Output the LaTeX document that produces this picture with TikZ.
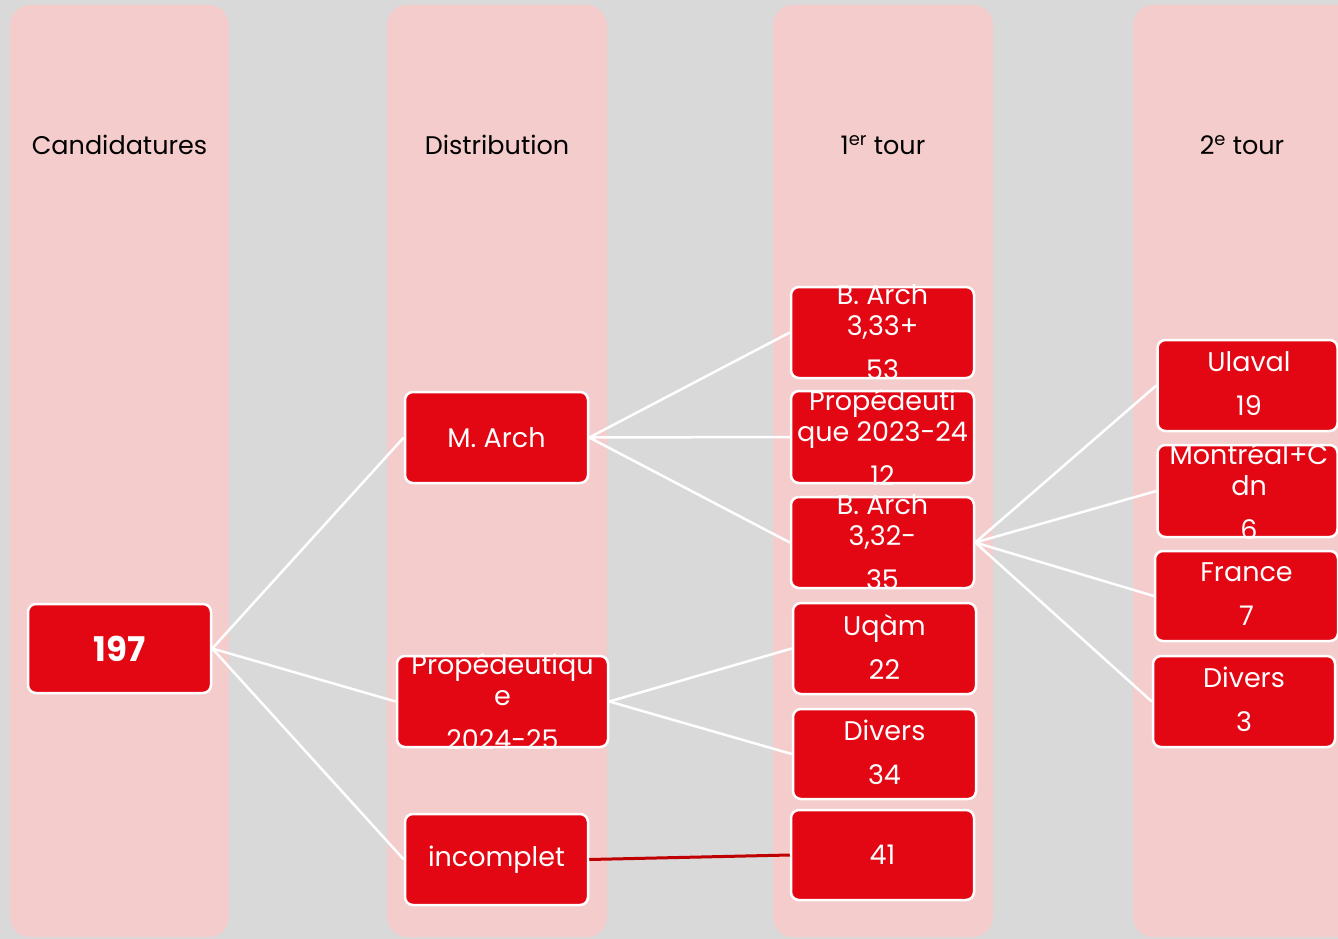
\documentclass[tikz,border=0pt]{standalone}
\usepackage{fontspec}
\setmainfont{Poppins}
\definecolor{bggray}{HTML}{D9D9D9}
\definecolor{colpink}{HTML}{F4CCCC}
\definecolor{boxred}{HTML}{E30613}
\definecolor{linkred}{HTML}{C00000}
\tikzset{
  column/.style={fill=colpink, draw=none, rounded corners=20pt},
  boxnode/.style={rectangle, rounded corners=8pt, fill=boxred, draw=white, line width=2.5pt, inner sep=0pt},
  boxtext/.style={text=white, align=center, inner sep=0pt, font=\fontsize{27}{31}\selectfont},
  header/.style={text=black, inner sep=0pt, font=\fontsize{25.5}{31}\selectfont},
  link/.style={draw=white, line width=2.5pt},
  redlink/.style={draw=linkred, line width=3pt}
}
\newcommand{\pgap}{\\[13pt]}
\begin{document}
\begin{tikzpicture}[x=1pt,y=-1pt]
\useasboundingbox (0,0) rectangle (1338,939);
\clip (0,0) rectangle (1338,939);
\fill[bggray] (0,0) rectangle (1338,939);
% columns
\fill[column] (10,5) rectangle (229,937);
\fill[column] (387,5) rectangle (607,937);
\fill[column] (773,5) rectangle (993,937);
\fill[column] (1133,5) rectangle (1380,937);
% headers
\node[header] (h1) at (119.5,145) {Candidatures};
\node[header] (h2) at (497,145) {Distribution};
\node[header] (h3) at (883,145) {1\textsuperscript{er} tour};
\node[header] (h4) at (1242,145) {2\textsuperscript{e} tour};
% boxes
\node[boxnode, minimum width=183pt, minimum height=89pt] (n197) at (119.5,648.5) {};
\node[boxnode, minimum width=183pt, minimum height=91pt] (march) at (496.5,437.5) {};
\node[boxnode, minimum width=211pt, minimum height=91pt] (prop24) at (502.5,701.5) {};
\node[boxnode, minimum width=183pt, minimum height=91pt] (incomplet) at (496.5,859.5) {};
\node[boxnode, minimum width=183pt, minimum height=91pt] (barch1) at (882.5,332.5) {};
\node[boxnode, minimum width=183pt, minimum height=92pt] (prop23) at (882.5,437) {};
\node[boxnode, minimum width=183pt, minimum height=91pt] (barch2) at (882.5,542.5) {};
\node[boxnode, minimum width=183pt, minimum height=91pt] (uqam) at (884.5,648.5) {};
\node[boxnode, minimum width=183pt, minimum height=90pt] (divers1) at (884.5,754) {};
\node[boxnode, minimum width=183pt, minimum height=90pt] (n41) at (882.5,855) {};
\node[boxnode, minimum width=180pt, minimum height=91pt] (ulaval) at (1247.5,385.5) {};
\node[boxnode, minimum width=180pt, minimum height=92pt] (montreal) at (1247.5,491) {};
\node[boxnode, minimum width=183pt, minimum height=90pt] (france) at (1246.5,596) {};
\node[boxnode, minimum width=182pt, minimum height=91pt] (divers2) at (1244,701.5) {};
% connectors
\draw[link] (n197.east) -- (march.west);
\draw[link] (n197.east) -- (prop24.west);
\draw[link] (n197.east) -- (incomplet.west);
\draw[link] (march.east) -- (barch1.west);
\draw[link] (march.east) -- (prop23.west);
\draw[link] (march.east) -- (barch2.west);
\draw[link] (prop24.east) -- (uqam.west);
\draw[link] (prop24.east) -- (divers1.west);
\draw[redlink] (incomplet.east) -- (n41.west);
\draw[link] (barch2.east) -- (ulaval.west);
\draw[link] (barch2.east) -- (montreal.west);
\draw[link] (barch2.east) -- (france.west);
\draw[link] (barch2.east) -- (divers2.west);
% texts
\node[boxtext, font=\fontsize{34}{38}\bfseries] (t197) at (n197) {197};
\node[boxtext] (tmarch) at (march) {M. Arch};
\node[boxtext] (tprop24) at (prop24) {Propédeutiqu\\e\pgap 2024-25};
\node[boxtext] (tincomplet) at (incomplet) {incomplet};
\node[boxtext] (tbarch1) at (barch1) {B. Arch\\3,33+\pgap 53};
\node[boxtext] (tprop23) at (prop23) {Propédeuti\\que 2023-24\pgap 12};
\node[boxtext] (tbarch2) at (barch2) {B. Arch\\3,32-\pgap 35};
\node[boxtext] (tuqam) at ([yshift=2pt]uqam.center) {Uqàm\pgap 22};
\node[boxtext] (tdivers1) at ([yshift=2pt]divers1.center) {Divers\pgap 34};
\node[boxtext] (t41) at (n41) {41};
\node[boxtext] (tulaval) at ([xshift=1.5pt,yshift=2pt]ulaval.center) {Ulaval\pgap 19};
\node[boxtext] (tmontreal) at ([xshift=1.5pt]montreal.center) {Montréal+C\\dn\pgap 6};
\node[boxtext] (tfrance) at ([yshift=2pt]france.center) {France\pgap 7};
\node[boxtext] (tdivers2) at ([yshift=2pt]divers2.center) {Divers\pgap 3};
\end{tikzpicture}
\end{document}
